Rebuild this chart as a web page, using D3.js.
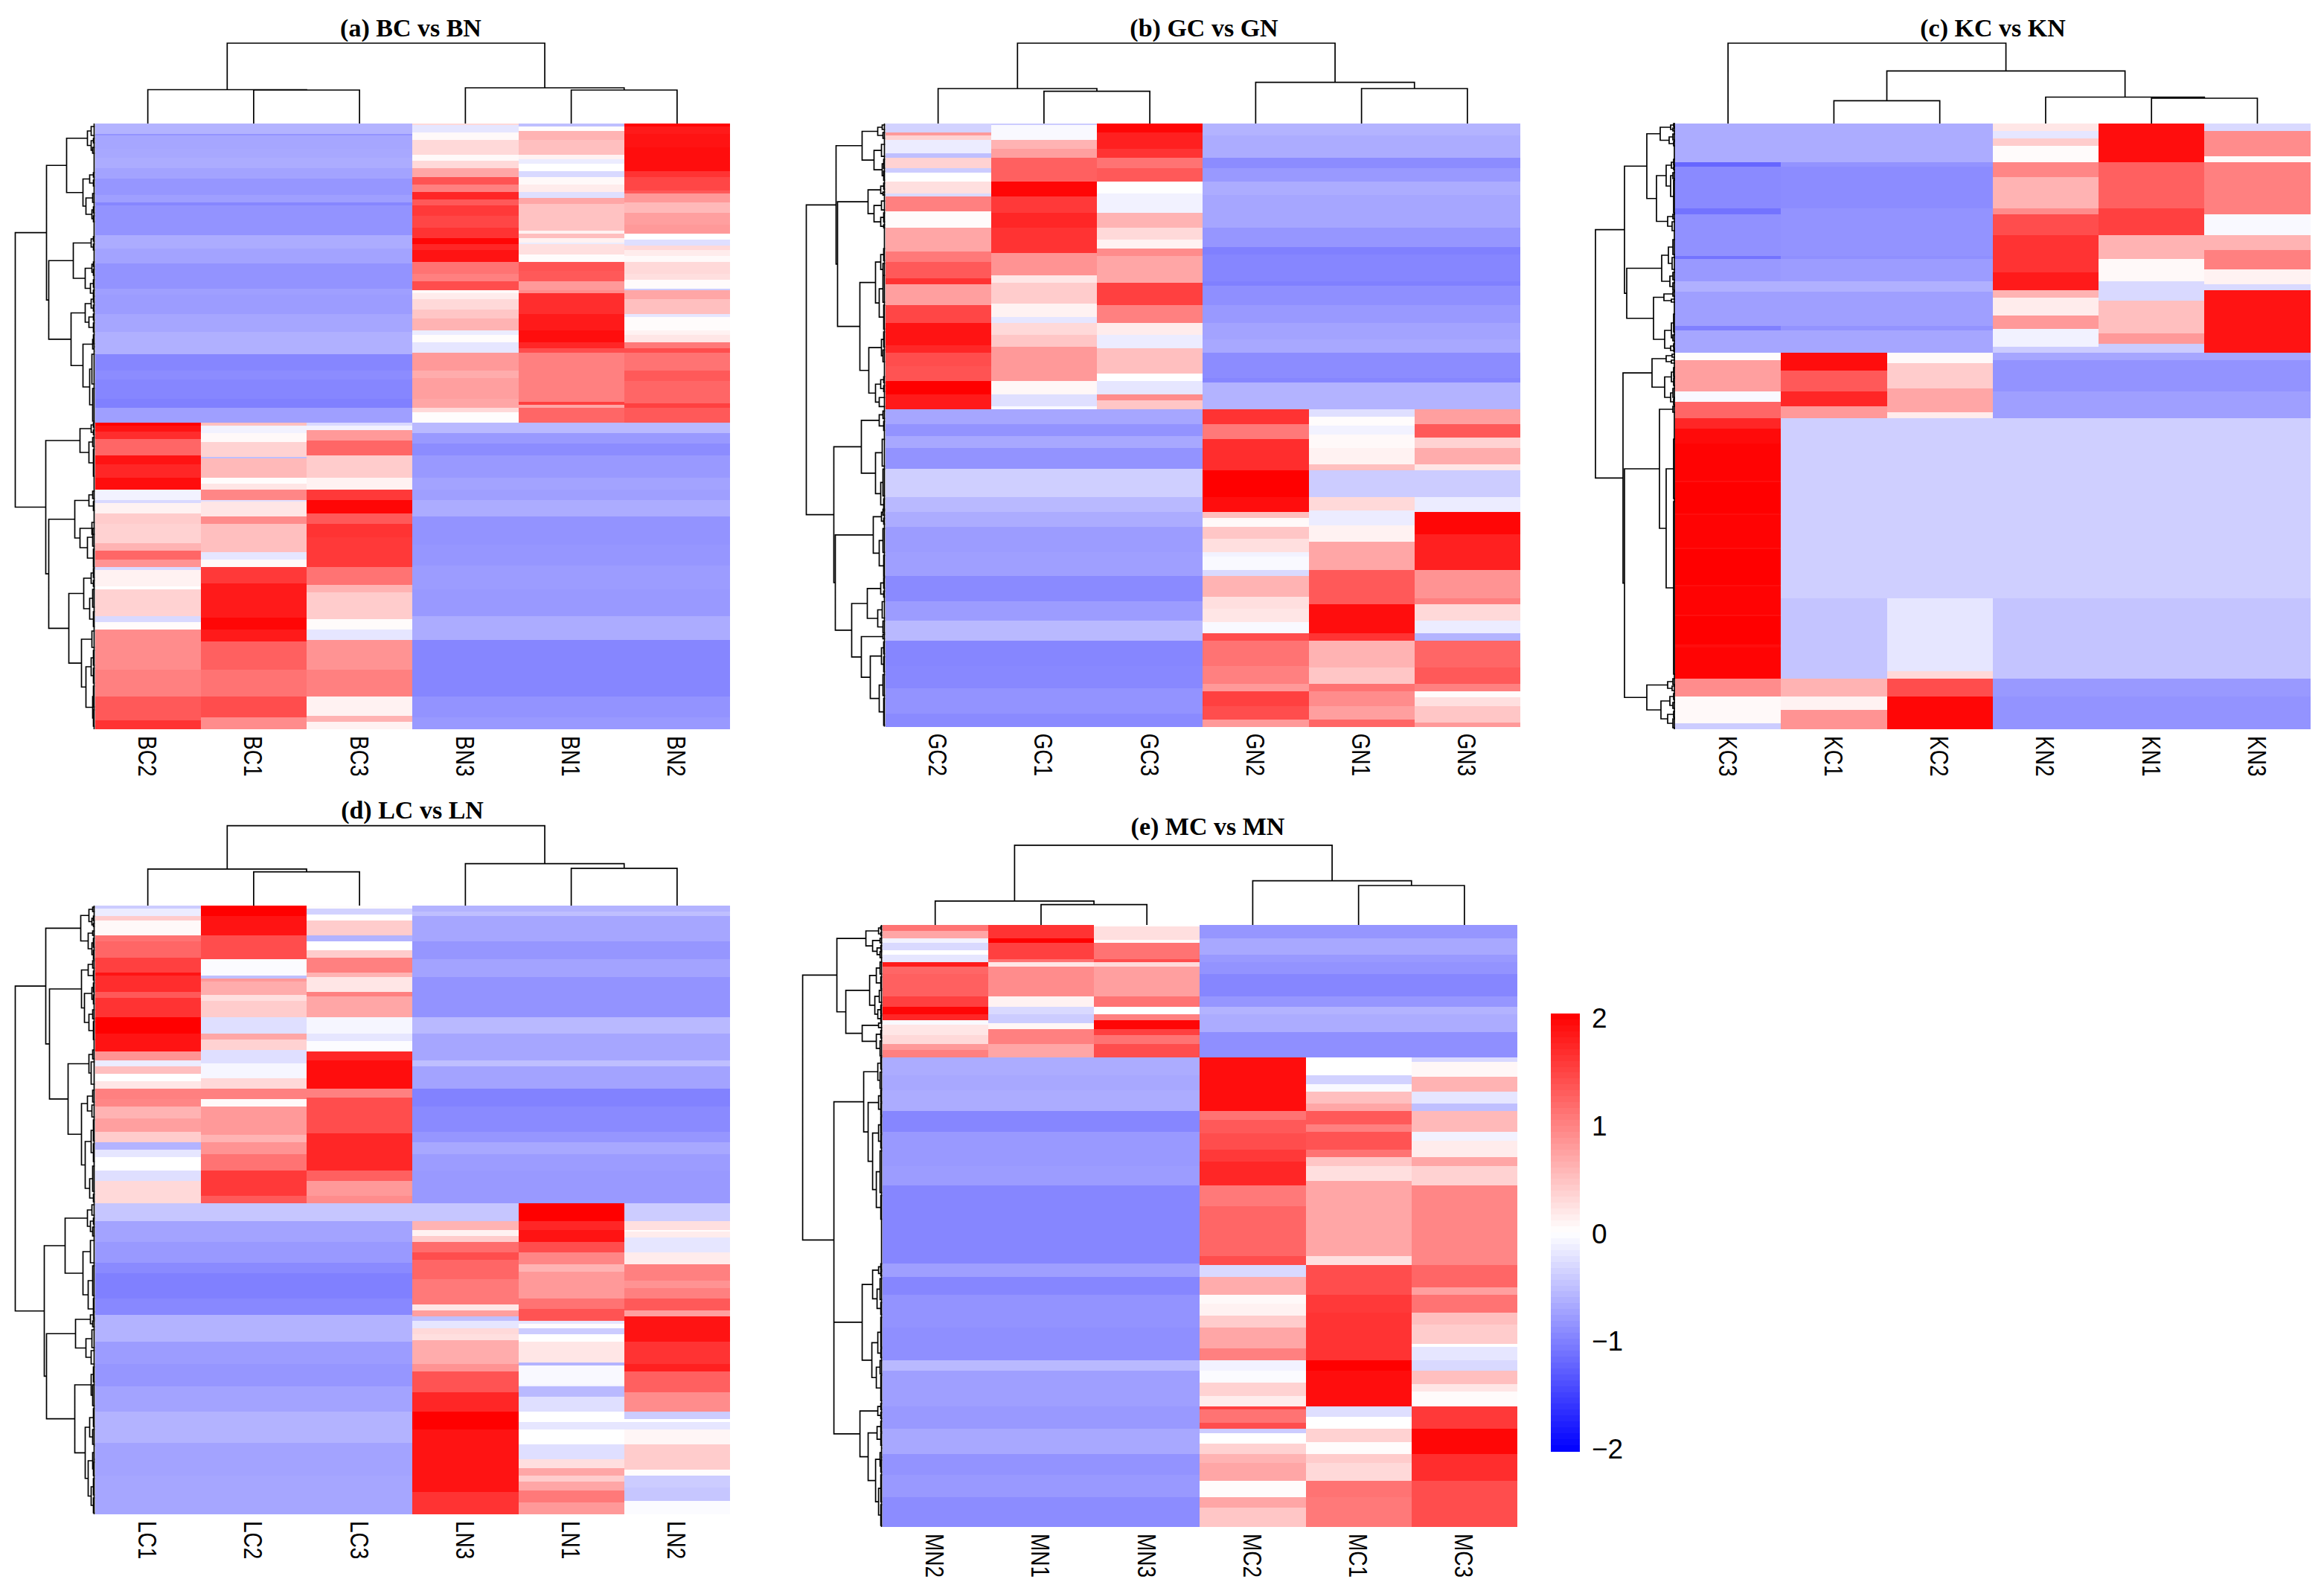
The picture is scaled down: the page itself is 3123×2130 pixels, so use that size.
<!DOCTYPE html>
<html>
<head>
    <title></title>
    <style>body { margin: 0; background: #fff; }</style>
    <script src="https://d3js.org/d3.v7.min.js"></script>
</head>
<body>

    <svg id="chart" width="3123" height="2130"></svg>

    <script>

    // every column is a list of bands: [last row of the band, z-score]

    // (a) BC vs BN
    const aBlueUp = [[7,-.6],[8,-.85],[17,-.7],[23,-.68],[30,-.65],[37,-.72],[48,-.82],[53,-.75],[55,-.95],[75,-.85],[84,-.65],[94,-.72],[111,-.85],[115,-.75],[128,-.78],[140,-.7],[155,-.62],[166,-.95],[172,-.9],[185,-.95],[191,-1],[201,-.75]];
    const aBlueLow = [[208,-.55],[215,-.8],[223,-.9],[238,-.8],[246,-.72],[253,-.75],[264,-.65],[283,-.85],[297,-.82],[313,-.78],[331,-.8],[347,-.65],[366,-.95],[385,-.95],[399,-.85],[407,-.8]];
    const bc2 = [...aBlueUp,[203,2],[207,1.85],[212,1.65],[223,1.2],[229,1.85],[238,1.7],[246,1.9],[253,-.1],[255,-.3],[262,.1],[269,.4],[282,.35],[287,.6],[293,1.2],[298,.85],[300,-.3],[311,.1],[313,0],[331,.35],[335,-.3],[340,.03],[350,.9],[367,.9],[385,1],[401,1.3],[407,1.6]];
    const bc1 = [...aBlueUp,[203,.5],[208,-.1],[214,.05],[224,.35],[225,-.5],[238,.55],[242,.02],[246,.2],[253,.95],[254,-.25],[264,.2],[269,.9],[288,.5],[293,-.2],[298,.05],[309,1.55],[332,1.8],[340,1.95],[348,1.8],[367,1.25],[385,1.1],[399,1.4],[407,.9]];
    const bc3 = [...aBlueUp,[203,-.3],[206,-.1],[213,.8],[223,1.2],[238,.4],[246,.1],[253,1.55],[262,1.95],[269,1.3],[278,1.6],[298,1.55],[310,1.1],[315,.6],[333,.4],[340,.03],[347,-.2],[367,.85],[385,1],[398,.1],[402,.6],[407,.1]];
    const bn3 = [[1,.3],[6,-.2],[11,.05],[21,.3],[25,.05],[30,.3],[36,.7],[41,1.35],[46,1],[51,1.7],[55,1.3],[62,1.55],[70,1.45],[77,1.6],[81,1.95],[85,1.7],[93,1.85],[101,1.1],[106,1],[112,1.4],[114,.05],[118,.15],[125,.3],[131,.45],[139,.6],[142,-.15],[147,.02],[154,-.2],[166,.8],[171,.65],[185,.75],[191,.7],[194,.3],[201,.02],...aBlueLow];
    const bn1 = [[2,-.5],[5,.02],[11,.6],[21,.5],[24,.1],[27,-.15],[32,0],[36,-.3],[41,.05],[46,.15],[50,-.25],[54,.7],[72,.48],[74,.1],[77,.5],[80,.1],[81,-.15],[88,.25],[93,.03],[99,1.35],[106,1.3],[112,.8],[114,.9],[128,1.65],[139,1.8],[147,1.9],[151,1.7],[154,1.4],[187,1],[189,1.5],[191,.7],[201,1.2],...aBlueLow];
    const bn2 = [[2,1.95],[7,1.8],[16,1.85],[23,1.9],[32,1.9],[36,1.6],[45,1.45],[47,1.3],[53,.8],[60,.55],[68,.75],[74,.8],[78,0],[82,-.25],[85,.3],[89,.15],[93,.05],[101,.3],[105,.25],[111,.03],[112,-.4],[118,.7],[128,.5],[130,-.2],[139,.02],[142,.1],[147,.2],[151,1.05],[154,1.4],[166,1.1],[173,1.3],[188,1.2],[191,1.5],[201,1.3],...aBlueLow];

    // (b) GC vs GN
    const bBlueUp = [[8,-.6],[17,-.65],[23,-.65],[30,-.9],[39,-.8],[48,-.65],[58,-.7],[70,-.7],[83,-.82],[88,-1],[106,-.95],[109,-1],[122,-.88],[134,-.8],[145,-.72],[154,-.68],[171,-.9],[174,-.95],[192,-.6]];
    const bBlueLow = [[202,-.7],[210,-.85],[218,-.68],[232,-.85],[251,-.38],[261,-.55],[271,-.65],[288,-.78],[304,-.75],[321,-.92],[334,-.78],[347,-.55],[364,-.95],[379,-.93],[396,-.85],[405,-.92]];
    const gc2 = [[6,-.35],[8,.8],[11,.35],[20,-.15],[23,-.5],[30,.35],[33,-.4],[39,0],[47,.25],[49,-.3],[59,1],[70,.03],[86,.7],[93,1.05],[104,1.3],[108,1.6],[122,.75],[134,1.45],[149,1.85],[154,1.7],[163,1.4],[173,1.35],[182,2],[192,1.8],...bBlueLow];
    const gc1 = [[1,-.4],[11,-.05],[17,.6],[23,.75],[31,1.25],[39,1.25],[49,1.95],[60,1.55],[70,1.7],[87,1.6],[102,.85],[107,.2],[121,.4],[130,.1],[134,-.2],[142,.3],[150,.45],[173,.8],[182,.06],[190,-.25],[192,-.05],...bBlueLow];
    const gc3 = [[6,1.95],[17,1.75],[23,1.6],[30,1.1],[39,1.3],[47,0],[60,-.1],[70,.6],[78,.3],[84,.1],[89,.9],[107,.7],[122,1.5],[134,1],[142,.15],[151,-.15],[168,.5],[173,0],[182,-.2],[186,.9],[192,.45],...bBlueLow];
    const gn2 = [...bBlueUp,[202,1.6],[212,1.05],[233,1.65],[251,2],[261,1.9],[265,.5],[271,.05],[279,.45],[288,.25],[291,-.1],[300,-.05],[304,-.3],[318,.6],[326,.25],[335,.2],[342,-.05],[347,1.4],[364,1.1],[376,1],[381,.8],[391,1.5],[400,1.4],[405,.8]];
    const gn1 = [...bBlueUp,[197,-.25],[203,.02],[209,-.1],[218,.05],[229,.1],[233,.5],[251,-.4],[260,.3],[270,-.15],[281,.1],[300,.7],[323,1.3],[342,1.9],[347,1.6],[365,.6],[376,.45],[381,1.1],[391,.9],[400,.75],[405,1.2]];
    const gn3 = [...bBlueUp,[202,.75],[211,1.3],[218,.35],[229,.65],[233,.2],[251,-.4],[261,-.15],[276,1.95],[300,1.75],[319,.85],[323,1],[334,.3],[342,-.15],[347,-.6],[365,1.2],[376,1.3],[381,1],[385,.03],[391,.25],[402,.45],[405,.8]];

    // (c) KC vs KN
    const cBlueUp = [[26,-.65],[29,-.85],[57,-.9],[61,-.85],[89,-.85],[91,-.88],[106,-.78],[113,-.62],[136,-.75],[139,-.85],[154,-.7]];
    const cBlueLow = [[159,-.7],[180,-.85],[198,-.75],[319,-.38],[373,-.46],[385,-.8],[407,-.85]];
    const kc3 = [[26,-.65],[29,-1.2],[57,-.92],[61,-1.1],[89,-.86],[91,-1.1],[106,-.8],[113,-.62],[136,-.75],[139,-1],[154,-.7],[159,.02],[180,.75],[187,-.05],[198,1.2],[205,1.7],[215,1.92],[240,1.98],[241,1.88],[262,2],[263,1.9],[285,1.98],[286,1.88],[310,2],[311,1.9],[330,1.98],[331,1.88],[350,2],[352,1.9],[373,1.97],[385,.9],[403,.05],[407,-.4]];
    const kc1 = [...cBlueUp,[166,1.9],[180,1.3],[190,1.7],[198,.8],[319,-.38],[373,-.46],[385,.6],[394,.1],[407,.85]];
    const kc2 = [...cBlueUp,[161,.05],[178,.4],[194,.7],[198,.15],[319,-.38],[368,-.2],[373,.3],[385,1.4],[407,1.95]];
    const kn2 = [[5,.2],[10,-.2],[15,.4],[26,.03],[36,.95],[57,.6],[61,.9],[75,1.4],[100,1.6],[112,1.8],[117,.6],[129,.15],[138,.8],[150,-.1],[154,-.4],...cBlueLow];
    const kn1 = [[26,1.9],[57,1.25],[75,1.5],[91,.6],[106,.05],[119,-.3],[141,.5],[148,.8],[154,-.4],...cBlueLow];
    const kn3 = [[5,-.3],[22,.9],[26,.05],[61,1],[75,-.05],[85,.6],[98,1],[108,.1],[112,-.3],[154,1.85],...cBlueLow];

    // (d) LC vs LN
    const dBlueUp = [[4,-.6],[7,-.5],[24,-.7],[36,-.82],[48,-.72],[75,-.85],[86,-.55],[104,-.7],[108,-.5],[123,-.72],[135,-.98],[152,-.92],[159,-.82],[167,-.68],[178,-.78],[200,-.8]];
    const dBlueLow = [[212,-.45],[226,-.72],[240,-.8],[247,-.92],[264,-1],[275,-.93],[293,-.6],[308,-.78],[323,-.82],[340,-.72],[361,-.6],[383,-.72],[409,-.7]];
    const lc1 = [[2,-.4],[7,-.15],[10,.4],[20,.05],[24,1.1],[35,1.2],[45,1.5],[47,1.85],[58,1.65],[62,1.3],[75,1.6],[86,2],[98,1.85],[104,.85],[108,-.15],[113,.5],[118,0],[123,.2],[130,1],[135,.95],[143,.6],[152,.75],[159,.4],[164,-.6],[169,-.2],[178,0],[185,-.25],[200,.3],...dBlueLow];
    const lc2 = [[7,2],[20,1.85],[36,1.4],[47,-.03],[49,-.5],[51,.8],[60,.65],[64,.25],[75,.4],[86,-.25],[90,.7],[97,.35],[106,-.25],[116,-.07],[123,.3],[130,1],[135,.05],[154,.8],[159,.6],[167,.85],[178,1.1],[195,1.55],[200,1.3],...dBlueLow];
    const lc3 = [[2,.02],[6,-.35],[10,0],[20,.4],[24,-.6],[30,0],[35,.4],[45,1],[48,.6],[58,.2],[61,1],[75,.7],[86,-.07],[91,-.2],[98,-.02],[104,1.7],[123,1.9],[129,1],[153,1.4],[178,1.7],[185,1.25],[195,.8],[200,.9],...dBlueLow];
    const ln3 = [...dBlueUp,[212,-.45],[218,.6],[222,.1],[226,.4],[233,1.15],[238,1.4],[251,1.2],[268,1.05],[272,.2],[276,.75],[279,-.5],[284,-.2],[288,.3],[292,.25],[308,.65],[313,.85],[327,1.35],[340,1.7],[352,2],[383,1.85],[394,1.85],[409,1.6]];
    const ln1 = [...dBlueUp,[212,2],[218,1.7],[226,1.85],[233,1.4],[241,.95],[246,.6],[264,.8],[271,1.1],[279,1.35],[281,-.2],[284,.02],[288,-.4],[293,0],[307,.2],[309,-.6],[322,-.05],[323,-.1],[330,-.55],[340,-.25],[347,0],[352,-.2],[362,0],[372,-.25],[378,.25],[383,.7],[387,.4],[393,.7],[401,1.05],[409,.8]];
    const ln2 = [...dBlueUp,[212,-.4],[218,.25],[219,.02],[223,.15],[233,-.2],[241,.15],[252,1],[257,.85],[264,1],[272,1.3],[276,.75],[293,1.85],[308,1.6],[313,1.75],[327,1.25],[340,.9],[345,-.4],[347,0],[352,-.2],[362,.07],[379,.4],[383,.02],[391,-.4],[400,-.45],[409,-.03]];

    // (e) MC vs MN
    const eBlueUp = [[9,-.82],[20,-.68],[25,-.8],[33,-.85],[48,-.95],[55,-.82],[60,-.6],[72,-.65],[89,-.88]];
    const eBlueLow = [[101,-.65],[111,-.68],[125,-.65],[139,-.95],[162,-.8],[175,-.78],[228,-.95],[237,-.75],[249,-.95],[271,-.85],[293,-.88],[300,-.55],[324,-.75],[339,-.8],[356,-.68],[370,-.85],[385,-.8],[405,-.9]];
    const mn2 = [[4,1.1],[9,.7],[12,-.1],[17,-.3],[20,0],[25,-.2],[28,1.8],[33,1.2],[48,1.25],[55,1.5],[60,1.95],[64,1.7],[67,-.05],[74,.2],[80,.3],[84,.8],[89,1],...eBlueLow];
    const mn1 = [[9,1.6],[12,2],[23,1.5],[25,1.1],[28,.2],[48,.9],[55,.1],[60,-.3],[66,-.4],[70,.07],[80,1],[89,.7],...eBlueLow];
    const mn3 = [[1,.02],[10,.25],[12,.05],[23,1.1],[25,1.4],[28,.3],[48,.75],[55,1.1],[60,0],[64,1],[70,1.95],[74,1.5],[80,1.1],[89,1.4],...eBlueLow];
    const mc2 = [...eBlueUp,[125,1.9],[131,1.1],[140,1.3],[151,1.4],[159,1.55],[175,1.7],[189,1.05],[223,1.2],[229,1.4],[237,-.3],[249,.65],[255,.05],[263,.1],[271,.4],[285,.7],[293,1],[300,-.1],[308,-.03],[317,.35],[324,.15],[326,1.5],[335,1.1],[339,1.4],[342,-.4],[349,0],[356,.35],[362,.6],[374,.7],[385,.02],[392,.7],[405,.45]];
    const mc1 = [...eBlueUp,[101,0],[107,-.35],[112,-.05],[120,.5],[125,.7],[134,1.3],[139,1],[151,1.35],[156,1.1],[162,.45],[172,.25],[223,.7],[229,.25],[249,1.4],[261,1.55],[284,1.6],[293,1.6],[300,2],[324,1.9],[331,-.25],[339,0],[348,.35],[356,.02],[362,.4],[374,.3],[385,1.1],[405,1.05]];
    const mc3 = [...eBlueUp,[92,-.3],[102,.06],[112,.6],[120,-.2],[125,-.5],[139,.55],[145,-.1],[156,.15],[162,.7],[175,.35],[229,.95],[244,1.2],[249,.75],[261,1.1],[269,.5],[282,.4],[284,0],[293,-.2],[300,-.3],[309,.5],[314,.2],[324,.03],[339,1.55],[356,1.95],[374,1.65],[405,1.4]];

    // sample trees: [merge height, child, child], a leaf is a column name
    const aSamples = ["BC2","BC1","BC3","BN3","BN1","BN2"];
    const aTop = [108,[45.5,"BC2",[45,"BC1","BC3"]],[48,"BN3",[45,"BN1","BN2"]]];
    const bSamples = ["GC2","GC1","GC3","GN2","GN1","GN3"];
    const bTop = [108,[47,"GC2",[43.4,"GC1","GC3"]],[55.4,"GN2",[47,"GN1","GN3"]]];
    const cSamples = ["KC3","KC1","KC2","KN2","KN1","KN3"];
    const cTop = [108,"KC3",[70.6,[30.6,"KC1","KC2"],[35.5,"KN2",[34,"KN1","KN3"]]]];
    const dSamples = ["LC1","LC2","LC3","LN3","LN1","LN2"];
    const dTop = [107.4,[49.2,"LC1",[45.4,"LC2","LC3"]],[56.4,"LN3",[50.2,"LN1","LN2"]]];
    const eSamples = ["MN2","MN1","MN3","MC2","MC1","MC3"];
    const eTop = [107.2,[32.1,"MN2",[27.3,"MN1","MN3"]],[59.4,"MC2",[53,"MC1","MC3"]]];

    // gene trees: same form, a leaf is a row number
    const aLeft = [107,
        [65,
            [38,[10,[5,2,8],[5,[2,10,13],[3,16,20]]],[16,[7,[2,33,36],[2,38,42]],[12,[3,47,53],[4,[2,56,60],[2,62,66]]]]],
            [62,
                [29,[5,[2,76,79],[2,81,85]],[13,[4,[2,93,96],[2,98,102]],[6,[2,105,110],[2,112,116]]]],
                [32,[13,[5,[2,116,120],[2,122,126]],[8,[2,128,132],[2,134,140]]],[16,[3,[2,142,148],[1,150,153]],[7,[4,155,175],[3,178,200]]]]]],
        [66,
            [20,[5,[2,201,204],[2,206,209]],[8,[3,211,217],[2,219,237]]],
            [62,
                [27,[8,[3,247,252],[2,254,260]],[20,[4,268,276],[10,[3,272,284],[2,286,298]]]],
                [35,[15,[5,[2,299,305],[2,307,311]],[7,[3,313,325],[2,328,338]]],[18,[4,341,352],[12,[5,[2,354,364],[2,366,376]],[3,[2,378,392],[2,394,405]]]]]]]];
    const bLeft = [106,
        [66,
            [31,[10,[4,1,4],[3,6,10]],[15,[5,14,22],[4,[2,24,30],[2,32,38]]]],
            [64,
                [23,[6,[2,40,44],[3,46,48]],[15,[5,52,58],[6,[2,60,66],[2,68,70]]]],
                [34,[13,[6,[2,84,92],[3,94,102]],[8,[3,102,120],[2,122,138]]],[22,[5,[2,140,150],[3,152,160]],[13,[6,[2,170,174],[2,176,180]],[8,184,190]]]]]],
        [69,
            [32,[8,[3,193,198],[2,200,206]],[13,[4,212,230],[6,[3,232,250],[2,252,260]]]],
            [67,
                [16,[5,[3,259,263],[2,265,269]],[8,[3,272,288],[2,290,304]]],
                [45,[24,[6,[2,305,312],[2,314,318]],[10,[4,321,332],[3,334,342]]],[32,[3,343,346],[20,[5,[2,348,356],[2,358,368]],[8,[3,370,384],[2,386,404]]]]]]]];
    const cLeft = [107,
        [68,
            [38,[20,[6,[2,0,2],[3,3,5]],[8,[3,7,11],[2,12,15]]],[25,[12,[5,[2,24,28],[2,29,31]],[6,[3,33,37],[2,38,60]]],[10,[3,61,64],[4,66,72]]]],
            [65,
                [18,[9,[3,78,88],[4,90,98]],[7,[3,100,105],[3,107,112]]],
                [29,[15,[3,113,116],[5,118,120]],[14,[5,[2,128,140],[3,142,146]],[6,[2,148,151],[2,152,153]]]]]],
        [70,
            [31,[12,[4,155,157],[5,159,161]],[14,[5,[2,164,170],[2,171,176]],[6,[3,178,184],[2,185,189]]]],
            [68,
                [21,[3,190,194],[12,[2,212,252],[2,254,370]]],
                [38,[10,[3,373,377],[4,378,381]],[19,[7,[2,383,387],[3,389,393]],[10,[2,395,399],[3,400,406]]]]]]];
    const dLeft = [107,
        [66,
            [19,[8,[3,1,4],[4,[2,7,10],[2,12,14]]],[9,[3,17,20],[4,[2,22,28],[2,30,36]]]],
            [61,
                [18,[9,[3,37,42],[2,44,50]],[14,[4,[2,52,58],[2,60,66]],[8,[3,70,76],[2,78,90]]]],
                [36,[8,[3,97,103],[5,105,120]],[18,[10,[3,124,132],[4,134,142]],[13,[5,[2,144,158],[2,160,172]],[7,[3,175,192],[2,194,199]]]]]]],
        [68,
            [40,[10,[4,201,208],[6,[2,210,214],[3,216,222]]],[16,[6,225,240],[9,[3,242,262],[2,264,278]]]],
            [65,
                [26,[6,[2,273,277],[3,279,283]],[12,[4,285,297],[5,299,308]]],
                [27,[5,[2,310,320],[3,322,336]],[13,[7,[2,338,350],[3,352,362]],[9,[3,[1,363,372],[2,374,383]],[5,[2,385,396],[2,398,408]]]]]]]];
    const eLeft = [107,
        [61,
            [22,[5,[2,1,3],[2,5,7]],[13,[3,9,12],[7,[2,14,17],[3,18,22]]]],
            [49,
                [17,[8,[3,25,33],[2,35,43]],[10,[4,44,52],[6,[2,54,60],[2,61,65]]]],
                [27,[5,66,69],[8,[2,71,76],[3,78,88]]]]],
        [65,
            [25,[6,[2,89,97],[3,99,110]],[19,[5,[2,111,119],[2,120,128]],[13,[5,[2,129,140],[2,141,150]],[8,[3,152,180],[2,182,198]]]]],
            [65,
                [27,[13,[5,[2,228,232],[2,233,236]],[7,[3,238,252],[2,254,262]]],[14,[6,[2,264,284],[2,285,291]],[8,[3,293,302],[2,303,320]]]],
                [30,[6,[2,322,326],[2,328,332]],[19,[7,[2,334,341],[2,342,350]],[9,[3,[1,352,358],[2,360,368]],[5,[2,370,388],[2,390,404]]]]]]]];

    const legendTicks = [2, 1, 0, -1, -2];

    var color = d3.scaleLinear().domain([-2,0,2]).range(["#0000ff","#ffffff","#ff0000"]);
    let svg = d3.select("#chart");
    svg.append("rect").attr("width",3123).attr("height",2130).attr("fill","#fff");

    function panel(p) {
        var g = svg.append("g");
        var xSc = d3.scaleBand().domain(p.samples).range([p.left,p.right]);
        var nRows = d3.max(p.cols.flat(), d=>d[0]);
        var ySc = d3.scaleLinear().domain([0,nRows]).range([p.top,p.bottom]);

        // heatmap cells
        p.samples.forEach(function(s,i) {
            var prev = 0;
            var bands = p.cols[i].map(function(b) {
                var r = {from:prev, to:b[0], v:b[1]};
                prev = b[0];
                return r;
            });
            g.append("g").attr("shape-rendering","crispEdges").selectAll("rect")
                .data(bands).enter().append("rect")
                .attr("x", xSc(s)).attr("width", xSc.bandwidth())
                .attr("y", d=>ySc(d.from)).attr("height", d=>ySc(d.to)-ySc(d.from))
                .attr("fill", d=>color(d.v));
        });

        // dendrograms
        var topH = d3.scaleLinear().domain([0,108]).range([p.top,p.top-108]);
        var leftH = d3.scaleLinear().domain([0,108]).range([p.left,p.left-108]);
        var segs = [];
        function walk(n, leafPos, link) {
            if (!Array.isArray(n)) return {h:0, pos:leafPos(n)};
            var a = walk(n[1],leafPos,link), b = walk(n[2],leafPos,link);
            link(a, b, n[0]);
            return {h:n[0], pos:(a.pos+b.pos)/2};
        }
        walk(p.top_tree, s=>xSc(s)+xSc.bandwidth()/2, function(a,b,h) {
            segs.push(`M${a.pos},${topH(a.h)}V${topH(h)}H${b.pos}V${topH(b.h)}`);
        });
        walk(p.left_tree, r=>ySc(r), function(a,b,h) {
            segs.push(`M${leftH(a.h)},${a.pos}H${leftH(h)}V${b.pos}H${leftH(b.h)}`);
        });
        segs.push(`M${p.left-1},${p.top}V${p.bottom}`);
        g.append("path").attr("d",segs.join("")).attr("fill","none")
            .attr("stroke","#000").attr("stroke-width",1.7);

        // sample labels
        g.append("g").selectAll("text").data(p.samples).enter().append("text")
            .attr("transform", d=>`translate(${xSc(d)+xSc.bandwidth()/2},${p.bottom+9}) rotate(90) scale(.8,1)`)
            .attr("dy","0.36em")
            .attr("font-family","Liberation Sans").attr("font-size",35)
            .text(d=>d);

        g.append("text").attr("x",p.titleX).attr("y",p.titleY).attr("text-anchor","middle")
            .attr("font-family","Liberation Serif").attr("font-weight","bold").attr("font-size",34)
            .text(p.title);
    }

    panel({title:"(a) BC vs BN", samples:aSamples, cols:[bc2,bc1,bc3,bn3,bn1,bn2], top_tree:aTop, left_tree:aLeft,
        left:127.5, right:981, top:166, bottom:980, titleX:552, titleY:49});
    panel({title:"(b) GC vs GN", samples:bSamples, cols:[gc2,gc1,gc3,gn2,gn1,gn3], top_tree:bTop, left_tree:bLeft,
        left:1189.5, right:2043, top:166, bottom:976.6, titleX:1618, titleY:49});
    panel({title:"(c) KC vs KN", samples:cSamples, cols:[kc3,kc1,kc2,kn2,kn1,kn3], top_tree:cTop, left_tree:cLeft,
        left:2251, right:3104.6, top:166, bottom:980, titleX:2678, titleY:49});
    panel({title:"(d) LC vs LN", samples:dSamples, cols:[lc1,lc2,lc3,ln3,ln1,ln2], top_tree:dTop, left_tree:dLeft,
        left:127.5, right:981, top:1217, bottom:2035, titleX:554, titleY:1100});
    panel({title:"(e) MC vs MN", samples:eSamples, cols:[mn2,mn1,mn3,mc2,mc1,mc3], top_tree:eTop, left_tree:eLeft,
        left:1185.6, right:2039, top:1243, bottom:2052, titleX:1623, titleY:1122});

    // colour legend
    var legY = d3.scaleLinear().domain([2,-2]).range([1362,1950]);
    var labelY = d3.scaleLinear().domain([2,-2]).range([1367.5,1947]);
    var legStep = 4/74;
    var legG = svg.append("g");
    legG.append("g").attr("shape-rendering","crispEdges").selectAll("rect")
        .data(d3.range(0,74)).enter().append("rect")
        .attr("x",2084).attr("width",39)
        .attr("y", i=>legY(2-i*legStep)).attr("height", legY(0)-legY(legStep)+0.5)
        .attr("fill", i=>color(2-i*legStep-legStep/2));
    legG.selectAll("text").data(legendTicks).enter().append("text")
        .attr("x",2139).attr("y",d=>labelY(d)).attr("dy","0.36em")
        .attr("font-family","Liberation Sans").attr("font-size",37)
        .text(d=>d<0 ? "\u2212"+(-d) : d);
    </script>

</body></html>
